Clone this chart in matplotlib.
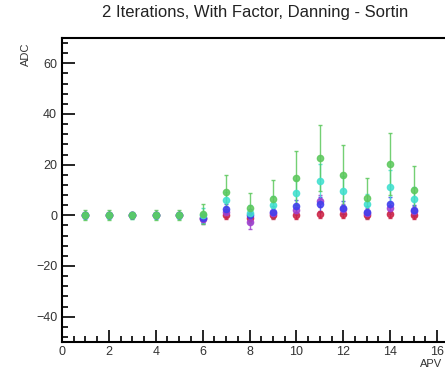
import numpy as np
import matplotlib.pyplot as plt
from matplotlib.ticker import MultipleLocator

plt.rcParams['font.family'] = ['Liberation Sans', 'DejaVu Sans']

apv = np.arange(1, 16)

red = [0, 0, 0, 0, 0, -1, 0, -1, 0, 0, 0.4, 0.4, 0, 0.4, 0]
red_err = [1, 1, 1, 1, 1, 1.5, 1.5, 2, 1.5, 1.5, 1.5, 1.5, 1.5, 1.5, 1.5]
purple = [0, 0, 0, 0, 0, -1.5, 1.2, -2.5, 0.8, 2.2, 5.7, 2.5, 1, 2.7, 1.8]
purple_err = [1, 1, 1, 1, 1, 2, 2, 3, 2, 2, 2.5, 2, 2, 2, 2]
blue = [0, 0, 0, 0, 0, -1, 2.5, 0, 1.5, 3.5, 4.3, 3, 1.5, 4.3, 2]
blue_err = [1, 1, 1, 1, 1, 2, 2, 2.5, 2, 2.5, 3, 2.5, 2, 3, 2]
cyan = [0, 0, 0, 0, 0, 0, 5.9, 1, 4, 8.8, 13.4, 9.5, 4.3, 11.2, 6.3]
cyan_err = [1.5, 1.5, 1.5, 1.5, 1.5, 3, 3.5, 3, 3.5, 5, 7, 6, 4, 6.5, 5]
green = [0.3, 0.2, 0, 0, 0, 0.5, 9.2, 2.8, 6.3, 14.7, 22.6, 15.8, 6.8, 20.2, 9.9]
green_err = [2, 2, 1.5, 2, 2, 4, 6.6, 6, 7.5, 10.6, 13, 12, 7.9, 12.3, 9.5]

series = [
    (red, red_err, '#cc2244'),
    (purple, purple_err, '#a040d0'),
    (blue, blue_err, '#4040ee'),
    (cyan, cyan_err, '#40e0d0'),
    (green, green_err, '#5cc85c'),
]

fig = plt.figure(figsize=(4.45, 3.7), dpi=100)
ax = fig.add_axes([62 / 445, 28 / 370, 17 * 23.44 / 445, 304 / 370])

for vals, errs, col in series:
    ax.errorbar(apv, vals, yerr=errs, fmt='o', color=col, ms=4.5, elinewidth=1,
                capsize=1.5, alpha=0.85)

ax.set_xlim(0, 17)
ax.set_ylim(-50, 70)
ax.xaxis.set_major_locator(MultipleLocator(2))
ax.xaxis.set_minor_locator(MultipleLocator(0.5))
ax.yaxis.set_major_locator(MultipleLocator(20))
ax.yaxis.set_minor_locator(MultipleLocator(4))
ax.tick_params(which='both', direction='in', top=False, right=False,
               labelsize=9, labelcolor='#333333', width=1.2)
ax.tick_params(which='major', length=9)
ax.tick_params(which='minor', length=4.5)
ax.tick_params(axis='x', pad=3)
for s in ax.spines.values():
    s.set_linewidth(1.5)

fig.text(255 / 445, 1 - 13 / 370, '2 Iterations, With Factor, Danning - Sortin',
         ha='center', va='center', fontsize=12, color='#222222')
fig.text(26 / 445, 1 - 42 / 370, 'ADC', rotation=90, ha='center', va='top',
         fontsize=8, color='#333333')
fig.text(420 / 445, 1 - 364 / 370, 'APV', ha='left', va='center',
         fontsize=8, color='#333333')

fig.savefig('out.png', dpi=100)
